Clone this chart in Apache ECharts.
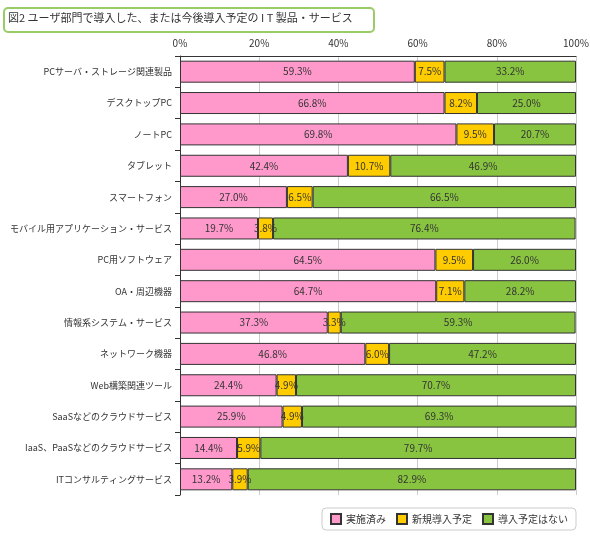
<!DOCTYPE html><html><head><meta charset="utf-8">
<script src="https://cdn.jsdelivr.net/npm/echarts@6/dist/echarts.min.js"></script>
<style>body{margin:0}#c{width:590px;height:542px}</style></head><body><div id="c"></div>
<script>
const categories=["PCサーバ・ストレージ関連製品","デスクトップPC","ノートPC","タブレット","スマートフォン","モバイル用アプリケーション・サービス","PC用ソフトウェア","OA・周辺機器","情報系システム・サービス","ネットワーク機器","Web構築関連ツール","SaaSなどのクラウドサービス","IaaS、PaaSなどのクラウドサービス","ITコンサルティングサービス"];
const done=[59.3,66.8,69.8,42.4,27.0,19.7,64.5,64.7,37.3,46.8,24.4,25.9,14.4,13.2];
const planned=[7.5,8.2,9.5,10.7,6.5,3.8,9.5,7.1,3.3,6.0,4.9,4.9,5.9,3.9];
const none=[33.2,25.0,20.7,46.9,66.5,76.4,26.0,28.2,59.3,47.2,70.7,69.3,79.7,82.9];
const names=["実施済み","新規導入予定","導入予定はない"];
const colors=["#ff99cc","#ffcc00","#88c440"];
const F='"Noto Sans CJK JP", sans-serif';
const mk=(n,d,c)=>({name:n,type:'bar',stack:'a',data:d,barWidth:22,
 itemStyle:{color:c,borderColor:'#333',borderWidth:1},
 label:{show:true,formatter:p=>p.value.toFixed(1)+'%',color:'#333',fontSize:10,fontFamily:F}});
const ch=echarts.init(document.getElementById('c'));
ch.setOption({
 animation:false,
 graphic:[{type:'rect',left:3,top:7,shape:{width:370,height:24,r:4},style:{fill:'#fff',stroke:'#99cc66',lineWidth:2}},
  {type:'text',left:8,top:12,style:{text:'図2 ユーザ部門で導入した、または今後導入予定の I T 製品・サービス',fontSize:11,fontFamily:F,fill:'#333'}}],
 grid:{left:180,right:14,top:56,bottom:47,containLabel:false,outerBoundsMode:'none'},
 legend:{right:14,bottom:12,itemWidth:10,itemHeight:10,itemGap:10,borderColor:'#ccc',borderWidth:1,borderRadius:4,padding:[5,8],
  textStyle:{fontSize:10,fontFamily:F,color:'#333'},data:names.map(n=>({name:n,icon:'rect'}))},
 xAxis:{type:'value',position:'top',min:0,max:100,interval:20,
  axisLabel:{formatter:'{value}%',fontSize:10,fontFamily:F,color:'#333'},
  axisLine:{show:true,lineStyle:{color:'#333'}},splitLine:{lineStyle:{color:'#ccc'}}},
 yAxis:{type:'category',inverse:true,data:categories,
  axisLabel:{fontSize:9,fontFamily:F,color:'#333',margin:8},
  axisLine:{lineStyle:{color:'#333'}},axisTick:{show:true,lineStyle:{color:'#333'}}},
 series:[mk(names[0],done,colors[0]),mk(names[1],planned,colors[1]),mk(names[2],none,colors[2])]
});
</script></body></html>
